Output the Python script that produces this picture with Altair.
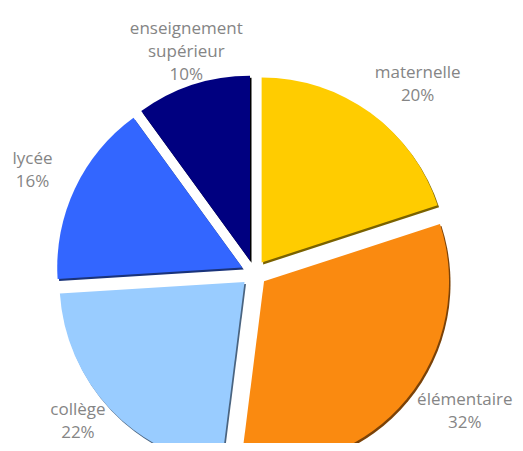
import math
import altair as alt
import pandas as pd

# ---- data ----
categories = ["maternelle", "élémentaire", "collège", "lycée", "enseignement supérieur"]
label_names = ["maternelle", "élémentaire", "collège", "lycée", "enseignement\nsupérieur"]
values = [20, 32, 22, 16, 10]
colors = ["#FFCC00", "#FA8A10", "#99CCFF", "#3366FF", "#000080"]
shadow_colors = ["#7A6200", "#7A4208", "#4A6480", "#1A337A", "#000000"]

df = pd.DataFrame({
    "category": categories,
    "name": label_names,
    "value": values,
    "order": list(range(len(values))),
    "color": colors,
    "shadow": shadow_colors,
})

TOTAL = sum(values)
W, H = 507, 435
CX, CY = 246, 265          # pie centre (px)
R = 185                    # pie radius
EXPLODE = 13               # explosion distance
LCX, LCY = 258, 259        # centre of the label ring
LRX, LRY = 258, 226        # label ring radii
LH = 23                    # label line height

base = alt.Chart(df).transform_window(
    cum="sum(value)", sort=[alt.SortField("order")], frame=[None, 0]
).transform_calculate(
    start="datum.cum - datum.value",
    mid=f"(datum.cum - datum.value / 2) / {TOTAL} * 2 * PI",
    label="datum.name + '\\n' + datum.value + '%'",
).transform_calculate(
    nl="length(split(datum.label, '\\n'))",
    cx=f"{CX} + {EXPLODE} * sin(datum.mid)",
    cy=f"{CY} - {EXPLODE} * cos(datum.mid)",
    sx=f"{CX} + 1.5 + {EXPLODE} * sin(datum.mid)",
    sy=f"{CY} + 2 - {EXPLODE} * cos(datum.mid)",
    lx=f"{LCX} + {LRX} * sin(datum.mid)",
).transform_calculate(
    ly=f"{LCY} - {LRY} * cos(datum.mid) - (datum.nl - 1) * {LH} / 2",
)

theta_scale = alt.Scale(domain=[0, TOTAL], range=[0, 2 * math.pi])

shadow = base.mark_arc(radius=R).encode(
    x=alt.X("sx:Q", scale=None),
    y=alt.Y("sy:Q", scale=None),
    theta=alt.Theta("start:Q", scale=theta_scale, stack=False),
    theta2=alt.Theta2("cum:Q"),
    fill=alt.Fill("shadow:N", scale=None),
)

slices = base.mark_arc(radius=R).encode(
    x=alt.X("cx:Q", scale=None),
    y=alt.Y("cy:Q", scale=None),
    theta=alt.Theta("start:Q", scale=theta_scale, stack=False),
    theta2=alt.Theta2("cum:Q"),
    fill=alt.Fill("color:N", scale=None),
    tooltip=["category:N", "value:Q"],
)

labels = base.mark_text(
    font="Open Sans", fontSize=17, color="#858585",
    lineBreak="\n", lineHeight=LH, align="center", baseline="middle",
).encode(
    x=alt.X("lx:Q", scale=None),
    y=alt.Y("ly:Q", scale=None),
    text="label:N",
)

chart = alt.layer(shadow, slices, labels).properties(
    width=W, height=H, padding=0,
    autosize=alt.AutoSizeParams(type="none"),
).configure_view(strokeWidth=0)

chart.save("out.html", embed_options={"renderer": "svg", "actions": False})
